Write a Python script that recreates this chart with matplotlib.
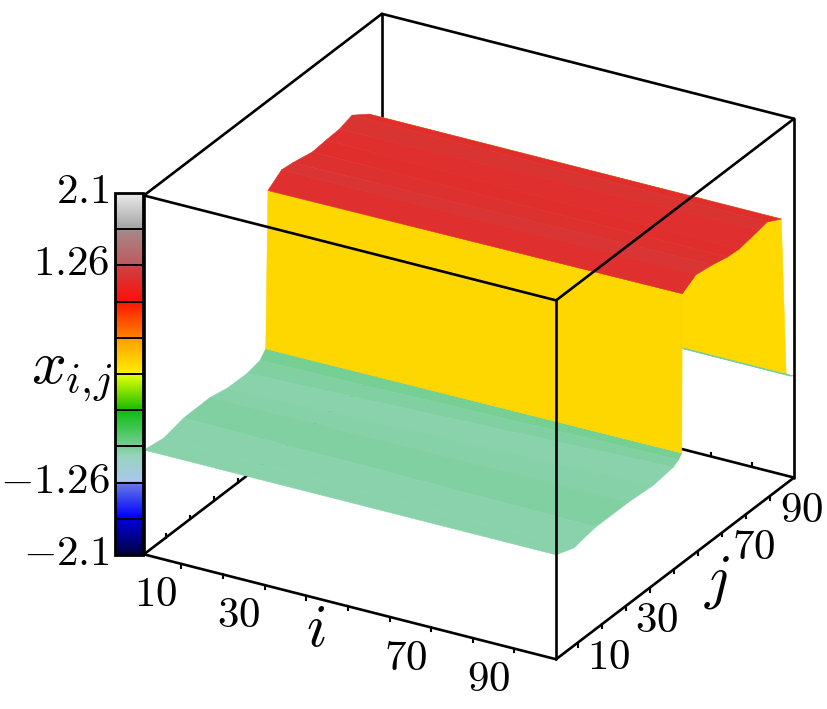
import numpy as np
import matplotlib
matplotlib.use("Agg")
import matplotlib.pyplot as plt
from matplotlib.colors import LinearSegmentedColormap
from mpl_toolkits.mplot3d import proj3d

plt.rcParams['mathtext.fontset'] = 'cm'

# profile across j at the two ends of i
i_vals = [1, 100]
j_left = [1, 9.2, 17.5, 28.6, 35.7, 43.9, 49.3, 51.7,
          52.6, 58.3, 62.9, 71.1, 76.9, 82.3, 87.6, 94.7,
          96.7, 98.5, 100]
x_left = [-0.878, -0.917, -0.86, -0.856, -0.90, -0.905, -0.869, -0.783,
          1.05, 1.17, 1.153, 1.104, 1.12, 1.13, 1.18, 1.04,
          -0.81, -0.88, -0.91]
j_right = [1, 8.4, 17.5, 31.1, 41.4, 49.7, 52, 53.3,
           53.5, 59.2, 66.1, 72.3, 77.2, 85.5, 88.9, 94.7,
           96.7, 98.5, 100]
x_right = [-0.878, -0.956, -0.907, -0.909, -0.933, -0.90, -0.86, -0.81,
           1.05, 1.15, 1.118, 1.076, 1.065, 1.11, 1.13, 1.04,
           -0.81, -0.88, -0.91]

cbar_edges = [-2.1, -1.68, -1.26, -0.84, -0.42, 0, 0.42, 0.84, 1.26, 1.68, 2.1]
cbar_ticks = [-2.1, -1.26, 1.26, 2.1]
cbar_labels = ['${-}2.1$', '${-}1.26$', '$1.26$', '$2.1$']
tick_vals = [10, 20, 30, 40, 50, 60, 70, 80, 90]
i_labels = [10, 30, 70, 90]
j_labels = [10, 30, 70, 90]

stops = [(-2.1, (0, 0, 60)), (-1.70, (0, 0, 215)), (-1.66, (0, 0, 255)), (-1.28, (100, 120, 230)),
         (-1.24, (170, 200, 235)), (-0.95, (150, 212, 188)), (-0.88, (128, 208, 160)), (-0.84, (120, 207, 150)),
         (-0.44, (15, 190, 20)), (-0.40, (30, 190, 0)), (-0.02, (225, 255, 0)), (0.0, (255, 240, 0)),
         (0.40, (255, 160, 0)), (0.44, (255, 125, 0)), (0.82, (255, 25, 0)), (0.86, (255, 15, 10)),
         (1.24, (205, 65, 65)), (1.28, (190, 90, 95)), (1.66, (165, 135, 135)), (1.70, (165, 165, 165)),
         (2.1, (235, 235, 235))]
cmap = LinearSegmentedColormap.from_list(
    'bands', [((v + 2.1) / 4.2, tuple(c / 255 for c in col)) for v, col in stops], N=1024)

fig = plt.figure(figsize=(8.27, 7.09), dpi=100)
ax = fig.add_axes([78.7 / 827, -17.8 / 709, 760 / 827, 760 / 709],
                  projection='3d', proj_type='ortho', computed_zorder=False)
ax.view_init(elev=26.15, azim=-60)
ax.set_box_aspect((1, 1, 0.84))
ax.set_xlim(1, 100, view_margin=0)
ax.set_ylim(1, 100, view_margin=0)
ax.set_zlim(-2.1, 2.1, view_margin=0)
ax.set_axis_off()

J = np.column_stack([j_left, j_right])
Z = np.column_stack([x_left, x_right])
I = np.tile(i_vals, (len(j_left), 1))
surf = ax.plot_surface(I, J, Z, rstride=1, cstride=1, cmap=cmap, vmin=-2.1, vmax=2.1,
                       shade=False, linewidth=0.4, antialiased=True, zorder=2)
surf.set_edgecolor('face')

# box edges, the hidden ones go under the surface
zl, zh = -2.1, 2.1
back = [[(1, 1, zl), (1, 100, zl)], [(1, 100, zl), (100, 100, zl)], [(1, 100, zl), (1, 100, zh)]]
front = [[(1, 1, zl), (100, 1, zl)], [(100, 1, zl), (100, 100, zl)],
         [(1, 1, zl), (1, 1, zh)], [(100, 1, zl), (100, 1, zh)], [(100, 100, zl), (100, 100, zh)],
         [(1, 1, zh), (100, 1, zh)], [(100, 1, zh), (100, 100, zh)],
         [(100, 100, zh), (1, 100, zh)], [(1, 100, zh), (1, 1, zh)]]
for seg in back:
    p = np.array(seg)
    ax.plot(p[:, 0], p[:, 1], p[:, 2], color='k', lw=1.9, zorder=1, solid_capstyle='round')
for seg in front:
    p = np.array(seg)
    ax.plot(p[:, 0], p[:, 1], p[:, 2], color='k', lw=1.9, zorder=3, solid_capstyle='round')

# ticks on all four bottom edges
for t in tick_vals:
    ax.plot([t, t], [1, 1], [zl, zl - 0.045], color='k', lw=1.5, zorder=3)
    ax.plot([100, 100], [t, t], [zl, zl - 0.045], color='k', lw=1.5, zorder=3)
    ax.plot([t, t], [100, 100], [zl, zl + 0.045], color='k', lw=1.5, zorder=1)
    ax.plot([1, 1], [t, t], [zl, zl + 0.045], color='k', lw=1.5, zorder=1)


def label3d(x, y, z, s, size):
    # project by hand so the label stays a plain 2D text
    px, py, _ = proj3d.proj_transform(x, y, z, ax.get_proj())
    ax.text2D(px, py, s, transform=ax.transData, fontsize=size,
              ha='center', va='center', zorder=4)


for t in i_labels:
    label3d(t - 6.15, 1, zl - 0.43, '$%d$' % t, 31)
for t in j_labels:
    label3d(107.5, t, zl - 0.07, '$%d$' % t, 31)
label3d(50 - 7.7, 1, zl - 0.363, '$i$', 43)
label3d(110.35, 50, zl - 0.01, '$j$', 43)

# colour bar on the left
cax = fig.add_axes([115 / 827, (709 - 555) / 709, 28 / 827, 362 / 709])
cb = fig.colorbar(surf, cax=cax)
cb.outline.set_linewidth(2)
cb.set_ticks([])
for t, lab in zip(cbar_ticks, cbar_labels):
    cax.annotate(lab, (0, t), xytext=(-5, 2), textcoords='offset pixels', fontsize=31,
                 ha='right', va='center', annotation_clip=False)
for e in cbar_edges[1:-1]:
    cax.axhline(e, color='k', lw=1.4)
fig.text(72 / 827, 1 - 374 / 709, r'$x_{i,\!j}$', fontsize=44, ha='center', va='center')

fig.savefig('out.png', dpi=100)
